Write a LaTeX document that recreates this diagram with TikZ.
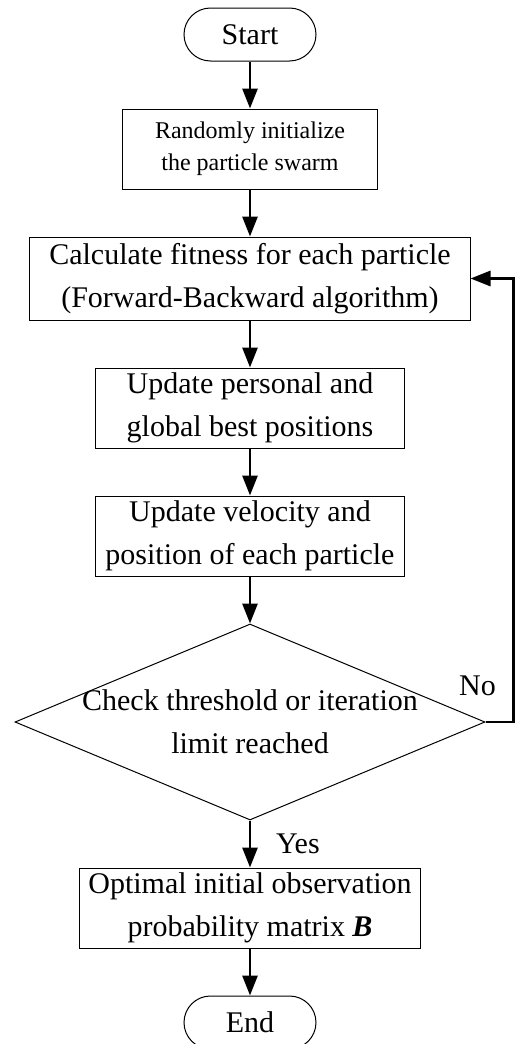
\documentclass[tikz,border=0pt]{standalone}
\usepackage{fontspec}
\setmainfont{Liberation Serif}
\usepackage{tikz}
\usetikzlibrary{shapes.geometric, arrows.meta, positioning}
\tikzstyle{startstop} = [rectangle, rounded corners=13.25pt, minimum width=66pt, minimum height=26.5pt, text centered, draw=black, line width=0.5pt]
\tikzstyle{process}   = [rectangle, minimum height=40pt, inner sep=0pt, text centered, draw=black, line width=0.5pt]
\tikzstyle{decision}  = [diamond, aspect=2.4, minimum width=235pt, minimum height=98pt, inner sep=0pt, draw=black, line width=0.5pt]
\tikzstyle{arrow}     = [line width=1.4pt, -{Triangle[length=10pt, width=7.5pt]}]
\tikzset{every node/.style={align=center, font=\fontsize{15}{21.5}\selectfont}}

\begin{document}
\begin{tikzpicture}[node distance=23.5pt]
    \useasboundingbox (-125pt,17.25pt) rectangle (132.5pt,-504.75pt);
    \node (s)    [startstop] {Start};
    \node (init) [process, below=of s, minimum width=127pt, font=\fontsize{12}{16}\selectfont] {Randomly initialize\\the particle swarm};
    \node (fit)  [process, below=of init, minimum width=220pt, minimum height=41.5pt] {Calculate fitness for each particle\\(Forward-Backward algorithm)};
    \node (best) [process, below=of fit, minimum width=154pt] {Update personal and\\global best positions};
    \node (vel)  [process, below=of best, minimum width=154pt] {Update velocity and\\position of each particle};
    \node (chk)  [decision, below=of vel] {};
    \node (chktxt) at (chk.center) {Check threshold or iteration\\limit reached};
    \node (opt)  [process, below=of chk, minimum width=170pt] {Optimal initial observation\\probability matrix \textbf{\textit{B}}};
    \node (e)    [startstop, below=of opt] {End};

    \draw [arrow] (s)    -- (init);
    \draw [arrow] (init) -- (fit);
    \draw [arrow] (fit)  -- (best);
    \draw [arrow] (best) -- (vel);
    \draw [arrow] (vel)  -- (chk);
    \draw [arrow] (chk)  -- node (yes) [right=9pt] {Yes} (opt);
    \draw [arrow] (opt)  -- (e);
    \draw [arrow] (chk.east) -- ++(14pt,0) |- (fit.east);
    \node (no) at ([xshift=-4pt, yshift=18pt]chk.east) {No};
\end{tikzpicture}
\end{document}
